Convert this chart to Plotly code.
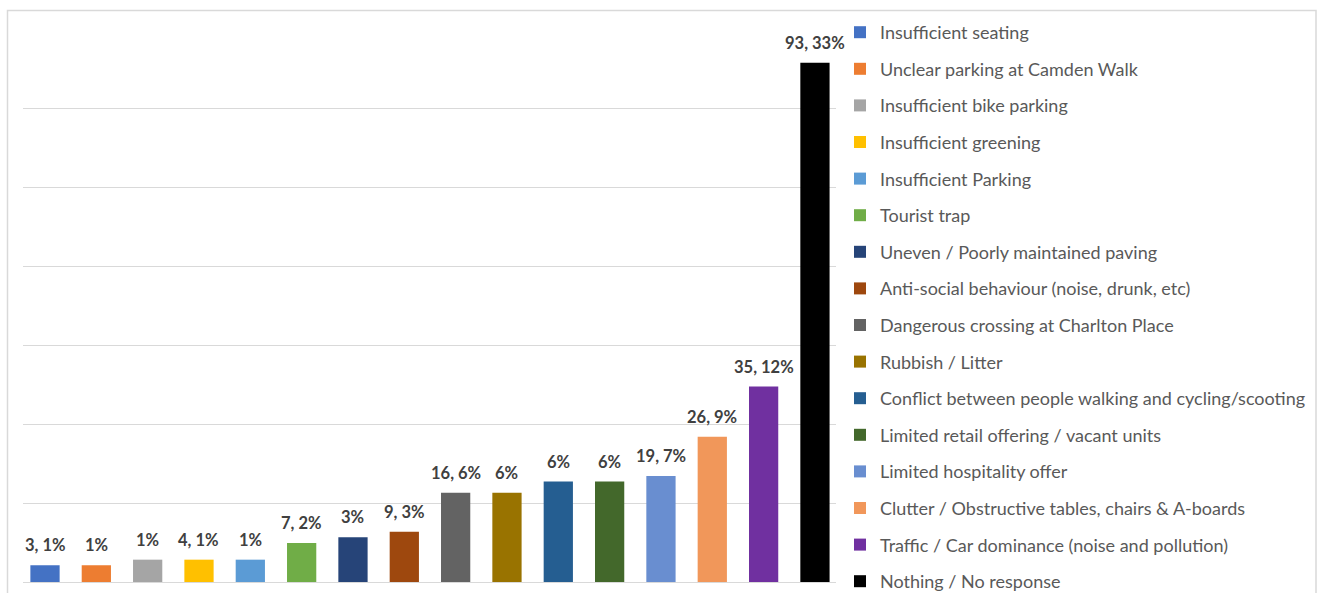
import plotly.graph_objects as go

categories = [
    "Insufficient seating",
    "Unclear parking at Camden Walk",
    "Insufficient bike parking",
    "Insufficient greening",
    "Insufficient Parking",
    "Tourist trap",
    "Uneven / Poorly maintained paving",
    "Anti-social behaviour (noise, drunk, etc)",
    "Dangerous crossing at Charlton Place",
    "Rubbish / Litter",
    "Conflict between people walking and cycling/scooting",
    "Limited retail offering / vacant units",
    "Limited hospitality offer",
    "Clutter / Obstructive tables, chairs & A-boards",
    "Traffic / Car dominance (noise and pollution)",
    "Nothing / No response",
]
counts = [3, 3, 4, 4, 4, 7, 8, 9, 16, 16, 18, 18, 19, 26, 35, 93]
labels = ["3, 1%", "1%", "1%", "4, 1%", "1%", "7, 2%", "3%", "9, 3%",
          "16, 6%", "6%", "6%", "6%", "19, 7%", "26, 9%", "35, 12%", "93, 33%"]
colors = ["#4472C4", "#ED7D31", "#A5A5A5", "#FFC000", "#5B9BD5", "#70AD47",
          "#264478", "#9E480E", "#636363", "#997300", "#255E91", "#43682B",
          "#698ED0", "#F1975A", "#7030A0", "#000000"]

total = sum(counts)
pcts = [c / total * 100 for c in counts]

fig = go.Figure()
for i, (cat, p, col) in enumerate(zip(categories, pcts, colors)):
    fig.add_trace(go.Bar(
        x=[cat], y=[p], name=cat,
        marker=dict(color=col, line=dict(width=0)),
        legendgroup=f"g{i}", hoverinfo="skip",
    ))

# data labels placed above each bar through the axes' scales
for cat, p, lab in zip(categories, pcts, labels):
    fig.add_annotation(
        x=cat, y=p, text=lab, showarrow=False,
        xanchor="center", yanchor="bottom", yshift=8,
        font=dict(family="Lato", size=16.5, color="#404040", weight="bold"),
    )

W, H = 1319, 593
L, R, T, B = 23, 483, 29, 11
pw, ph = W - L - R, H - T - B

def px2x(px):
    return (px - L) / pw

def px2y(py):
    return (H - B - py) / ph

fig.update_layout(
    width=W, height=H,
    margin=dict(l=L, r=R, t=T, b=B, pad=0, autoexpand=False),
    paper_bgcolor="white", plot_bgcolor="white",
    barmode="overlay", bargap=0.43,
    showlegend=True,
    legend=dict(
        xref="container", yref="container",
        x=840 / W, y=1 - 14 / H, xanchor="left", yanchor="top",
        font=dict(family="Lato", size=18, color="#595959"),
        tracegroupgap=10.2, traceorder="grouped",
        itemwidth=30, bgcolor="rgba(0,0,0,0)", maxheight=800,
    ),
    xaxis=dict(
        categoryorder="array", categoryarray=categories,
        range=[-0.4286, 15.41],
        showticklabels=False, showgrid=False, zeroline=False,
        showline=False, ticks="",
    ),
    yaxis=dict(
        range=[0, 35], dtick=5, showticklabels=False,
        showgrid=True, gridcolor="#D9D9D9", gridwidth=1,
        zeroline=True, zerolinecolor="#D9D9D9", zerolinewidth=1,
        showline=False, ticks="",
    ),
    shapes=[dict(
        type="rect", xref="paper", yref="paper",
        x0=px2x(7.5), x1=px2x(1316), y0=px2y(600), y1=px2y(10.5),
        line=dict(color="#D9D9D9", width=1.5), fillcolor="rgba(0,0,0,0)",
        layer="below",
    )],
)

fig.write_html("out.html", config={"displayModeBar": False})
with open("out.html", encoding="utf-8") as f:
    html = f.read()
html = html.replace("<head>", "<head><style>html,body{margin:0;padding:0;overflow:hidden}</style>", 1)
with open("out.html", "w", encoding="utf-8") as f:
    f.write(html)
